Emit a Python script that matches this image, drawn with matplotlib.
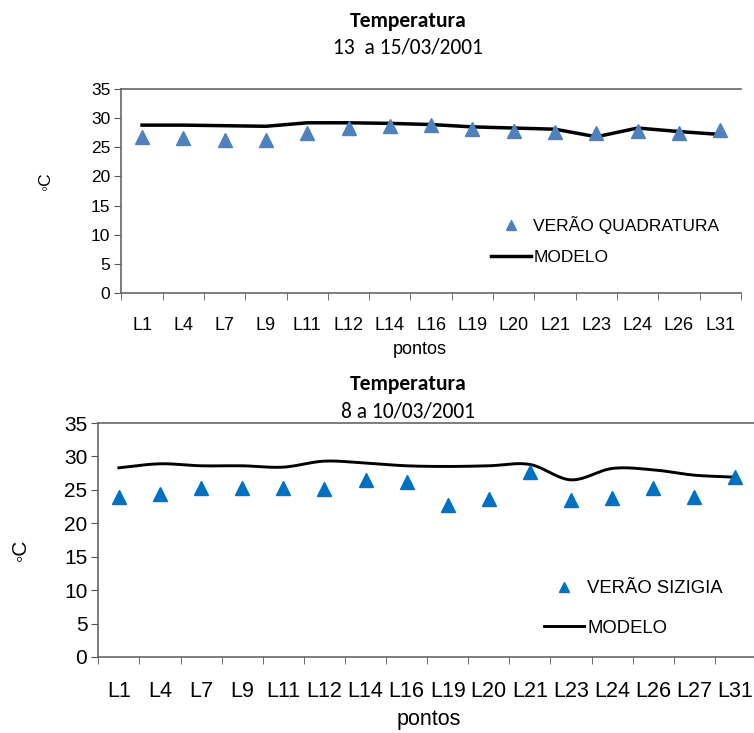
import numpy as np
import matplotlib
matplotlib.use("Agg")
import matplotlib.pyplot as plt
from matplotlib.lines import Line2D

# --- data -------------------------------------------------------------
pontos_quad = ["L1", "L4", "L7", "L9", "L11", "L12", "L14", "L16", "L19",
               "L20", "L21", "L23", "L24", "L26", "L31"]
quadratura = [26.8, 26.6, 26.2, 26.3, 27.5, 28.3, 28.7, 28.8, 28.2,
              27.8, 27.6, 27.5, 27.8, 27.5, 28.0]
modelo_quad = [28.8, 28.8, 28.7, 28.6, 29.2, 29.2, 29.1, 28.9, 28.5,
               28.3, 28.1, 26.8, 28.3, 27.7, 27.2]

pontos_siz = ["L1", "L4", "L7", "L9", "L11", "L12", "L14", "L16", "L19",
              "L20", "L21", "L23", "L24", "L26", "L27", "L31"]
sizigia = [23.9, 24.4, 25.3, 25.3, 25.3, 25.1, 26.5, 26.2, 22.8,
           23.6, 27.6, 23.5, 23.8, 25.3, 23.9, 26.9]
modelo_siz = [28.3, 28.9, 28.6, 28.6, 28.4, 29.3, 29.0, 28.6, 28.5,
              28.6, 28.8, 26.5, 28.2, 28.0, 27.2, 26.9]

yticks = [0, 5, 10, 15, 20, 25, 30, 35]

TXT = ["Liberation Sans", "DejaVu Sans"]
TITLE = ["Carlito", "Lato", "DejaVu Sans"]


def smooth(x, y, n=20):
    """Catmull-Rom curve through the given points (a smoothed line)."""
    x = np.asarray(x, float)
    y = np.asarray(y, float)
    px = np.concatenate([[2 * x[0] - x[1]], x, [2 * x[-1] - x[-2]]])
    py = np.concatenate([[2 * y[0] - y[1]], y, [2 * y[-1] - y[-2]]])
    xs, ys = [], []
    t = np.linspace(0, 1, n, endpoint=False)
    for i in range(1, len(px) - 2):
        p0, p1, p2, p3 = (np.array([px[j], py[j]]) for j in range(i - 1, i + 3))
        for tt in t:
            pt = 0.5 * ((2 * p1) + (-p0 + p2) * tt
                        + (2 * p0 - 5 * p1 + 4 * p2 - p3) * tt ** 2
                        + (-p0 + 3 * p1 - 3 * p2 + p3) * tt ** 3)
            xs.append(pt[0])
            ys.append(pt[1])
    xs.append(x[-1])
    ys.append(y[-1])
    return np.array(xs), np.array(ys)


def style_axes(ax, labels, xtick_fs, xpad, ytick_fs):
    n = len(labels)
    ax.set_xlim(-0.5, n - 0.5)
    ax.set_ylim(0, 35)
    ax.set_yticks(yticks)
    ax.set_xticks(np.arange(n))
    ax.set_xticklabels(labels, fontsize=xtick_fs, family=TXT)
    ax.set_xticks(np.arange(n + 1) - 0.5, minor=True)
    ax.tick_params(axis="x", which="major", length=0, pad=xpad)
    ax.tick_params(axis="x", which="minor", length=5, direction="out",
                   color="#555555")
    ax.tick_params(axis="y", length=5, direction="out", color="#555555",
                   labelsize=ytick_fs, pad=3)
    for lbl in ax.get_yticklabels():
        lbl.set_family(TXT)
    ax.spines["right"].set_visible(False)
    for s in ("left", "bottom", "top"):
        ax.spines[s].set_color("#666666")
        ax.spines[s].set_linewidth(1.2)


fig = plt.figure(figsize=(7.54, 7.33), dpi=100)

# --- upper panel: quadratura -----------------------------------------
ax1 = fig.add_axes([0.161, 0.6003, 0.8216, 0.2783])
x1 = np.arange(len(pontos_quad))
ax1.plot(x1, modelo_quad, color="black", lw=2.5, solid_joinstyle="round",
         zorder=2)
ax1.plot(x1, quadratura, linestyle="none", marker="^", markersize=10,
         color="#4F81BD", zorder=3)
style_axes(ax1, pontos_quad, 13, 17.5, 12.5)
fig.text(0.557, 1 - 350 / 733, "pontos", ha="center", va="center",
         fontsize=13, family=TXT)
fig.text(0.06, 1 - 182 / 733, "◦C", ha="center", va="center", rotation=90,
         fontsize=12.5, family=TXT)
fig.text(0.541, 0.972, "Temperatura", ha="center", va="center",
         fontsize=15.5, fontweight="bold", family=TITLE)
fig.text(0.541, 0.935, "13  a 15/03/2001", ha="center", va="center",
         fontsize=15.5, family=TITLE)
h1 = [Line2D([], [], ls="none", marker="^", markersize=7, color="#4F81BD"),
      Line2D([], [], color="black", lw=2.5)]
ax1.legend(h1, ["VERÃO QUADRATURA", "MODELO"], loc="center left",
           bbox_to_anchor=(0.651, 0.672), bbox_transform=fig.transFigure,
           frameon=False, handlelength=2.3, handletextpad=0.15,
           labelspacing=0.9, borderaxespad=0, borderpad=0,
           prop={"family": TXT, "size": 12.5})

# --- lower panel: sizigia --------------------------------------------
ax2 = fig.add_axes([0.1305, 0.1037, 0.872, 0.3192])
x2 = np.arange(len(pontos_siz))
sx, sy = smooth(x2, modelo_siz)
ax2.plot(sx, sy, color="black", lw=2.1, zorder=2)
ax2.plot(x2, sizigia, linestyle="none", marker="^", markersize=10,
         color="#0070C0", zorder=3)
style_axes(ax2, pontos_siz, 15.5, 17, 15)
fig.text(0.568, 1 - 720 / 733, "pontos", ha="center", va="center",
         fontsize=15.5, family=TXT)
fig.text(0.027, 1 - 550 / 733, "◦C", ha="center", va="center", rotation=90,
         fontsize=15, family=TXT)
fig.text(0.541, 0.476, "Temperatura", ha="center", va="center",
         fontsize=15.5, fontweight="bold", family=TITLE)
fig.text(0.541, 0.439, "8 a 10/03/2001", ha="center", va="center",
         fontsize=15.5, family=TITLE)
h2 = [Line2D([], [], ls="none", marker="^", markersize=7, color="#0070C0"),
      Line2D([], [], color="black", lw=2.1)]
ax2.legend(h2, ["VERÃO SIZIGIA", "MODELO"], loc="center left",
           bbox_to_anchor=(0.721, 0.1698), bbox_transform=fig.transFigure,
           frameon=False, handlelength=2.2, handletextpad=0.15,
           labelspacing=1.2, borderaxespad=0, borderpad=0,
           prop={"family": TXT, "size": 13.3})

fig.savefig("out.png", dpi=100)
